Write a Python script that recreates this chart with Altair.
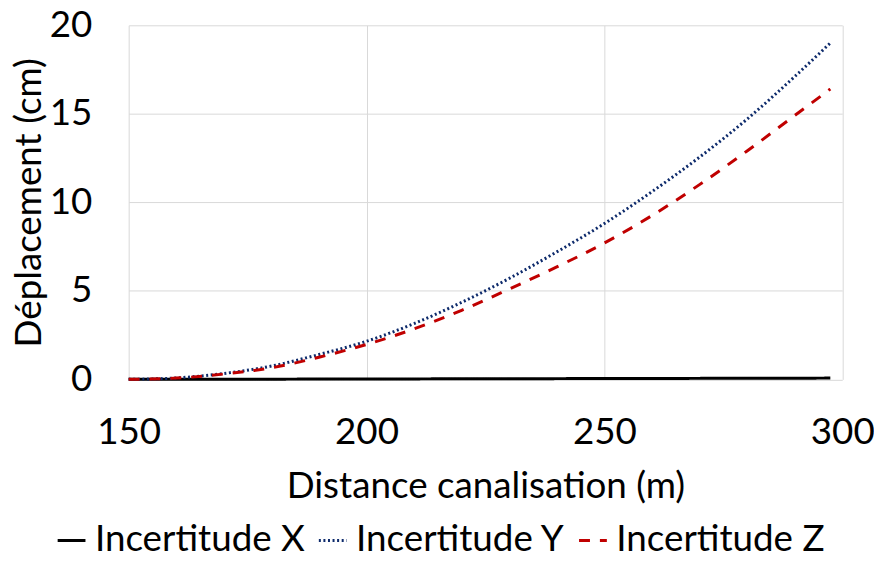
import altair as alt
import pandas as pd

# Data
distance = [150, 160, 170, 180, 190, 200, 210, 220, 230, 240, 250, 260, 270, 280, 290, 297.5]
incert_x = [0.0, 0.002, 0.005, 0.01, 0.015, 0.02, 0.025, 0.03, 0.035, 0.04, 0.045, 0.05, 0.055, 0.06, 0.065, 0.07]
incert_y = [0.0, 0.08, 0.33, 0.75, 1.4, 2.15, 3.15, 4.35, 5.7, 7.2, 8.8, 10.6, 12.55, 14.7, 17.1, 19.0]
incert_z = [0.0, 0.07, 0.30, 0.65, 1.25, 1.97, 2.85, 3.9, 5.1, 6.35, 7.7, 9.25, 11.0, 12.9, 14.9, 16.4]

series = ["Incertitude X", "Incertitude Y", "Incertitude Z"]
colors = ["#000000", "#0d2a6b", "#c00000"]
dashes = [[1, 0], [2, 2.6], [11, 10]]

x_ticks = [150, 200, 250, 300]
y_ticks = [0, 5, 10, 15, 20]

rows = []
for name, vals in zip(series, [incert_x, incert_y, incert_z]):
    for d, v in zip(distance, vals):
        rows.append({"Distance": d, "Valeur": v, "Série": name})
df = pd.DataFrame(rows)

FONT = "Lato"
FS = 37

legend_common = dict(
    title=None,
    orient="none",
    legendX=-76,
    legendY=500,
    direction="horizontal",
    labelFont=FONT,
    labelFontSize=FS,
    labelColor="black",
    labelLimit=0,
    symbolType="stroke",
    symbolSize=784,
    symbolStrokeWidth=3,
    labelOffset=5,
    columnPadding=7,
    padding=0,
)

chart = (
    alt.Chart(df)
    .mark_line(strokeWidth=3, interpolate="monotone")
    .encode(
        x=alt.X(
            "Distance:Q",
            scale=alt.Scale(domain=[150, 300], nice=False, zero=False),
            axis=alt.Axis(
                values=x_ticks,
                title="Distance canalisation (m)",
                labelPadding=36,
                labelFlush=False,
                titlePadding=18,
            ),
        ),
        y=alt.Y(
            "Valeur:Q",
            scale=alt.Scale(domain=[0, 20], nice=False),
            axis=alt.Axis(
                values=y_ticks,
                title="Déplacement (cm)",
                labelPadding=37,
                labelFlush=False,
                titlePadding=1,
            ),
        ),
        color=alt.Color(
            "Série:N",
            scale=alt.Scale(domain=series, range=colors),
            legend=alt.Legend(**legend_common),
        ),
        strokeDash=alt.StrokeDash(
            "Série:N",
            scale=alt.Scale(domain=series, range=dashes),
            legend=alt.Legend(**legend_common),
        ),
    )
    .properties(
        width=718.5,
        height=356.5,
        autosize="none",
        padding={"left": 121.5, "top": 15.5, "right": 32, "bottom": 180},
    )
    .configure_view(stroke=None)
    .configure_axis(
        domain=False,
        ticks=False,
        grid=True,
        gridColor="#d9d9d9",
        gridWidth=1,
        labelFont=FONT,
        labelFontSize=FS,
        labelColor="black",
        titleFont=FONT,
        titleFontSize=FS,
        titleFontWeight="normal",
        titleColor="black",
    )
)

chart.save("out.html", embed_options={"renderer": "svg", "actions": False})
